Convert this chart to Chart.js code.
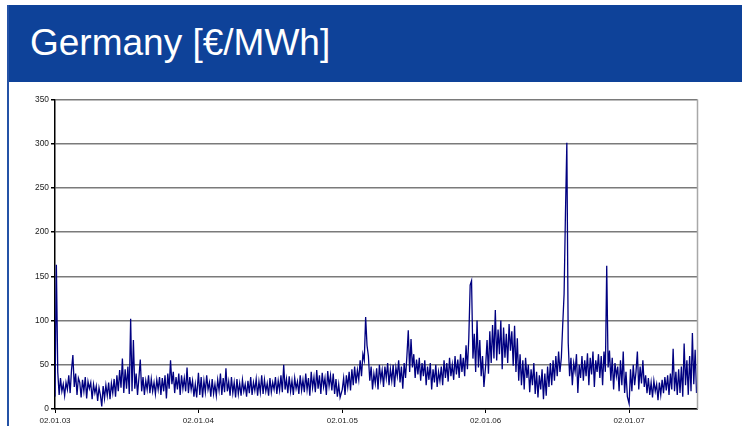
<!DOCTYPE html>
<html>
<head>
<meta charset="utf-8">
<script src="https://cdn.jsdelivr.net/npm/chart.js@4.4.0/dist/chart.umd.min.js"></script>
<style>
    html, body { margin: 0; padding: 0; background: #fff; }
    body { width: 742px; height: 426px; position: relative; overflow: hidden; font-family: 'Liberation Sans', Arial, sans-serif; }
    #header { position: absolute; left: 7px; top: 5px; width: 735px; height: 77px; background: #0e4299; }
    #title { position: absolute; left: 23px; top: 16.5px; color: #fff; font-size: 37px; line-height: normal; white-space: nowrap; }
    #edge { position: absolute; left: 7px; top: 5px; width: 2px; height: 421px; background: #2452a6; }
    #wrap { position: absolute; left: 0; top: 84px; width: 742px; height: 342px; }
</style>
</head>
<body>
<div id="header"><span id="title">Germany [€/MWh]</span></div>
<div id="edge"></div>
<div id="wrap"><canvas id="chart"></canvas></div>
<script>
// Tick labels (dd.mm.yy) and their day offsets from 02.01.03
const tickLabels = ['02.01.03', '02.01.04', '02.01.05', '02.01.06', '02.01.07'];
const tickDays = [0, 365, 731, 1096, 1461];
const lastDay = 1635;

// Day-ahead base price, two readings per week, one array per year (€/MWh)
const prices2003 = [
    14, 163,
    42, 16, 35, 20, 28, 15, 30, 22, 38, 18, 44, 61,
    25, 40, 16, 35, 30, 13, 33, 20, 36, 12, 31, 23,
    30, 11, 28, 18, 26, 9, 24, 16, 3, 26, 12, 27,
    15, 30, 11, 29, 18, 34, 14, 38, 20, 44, 24, 57,
    18, 45, 23, 48, 17, 102, 20, 78, 23, 40, 16, 35,
    56, 20, 36, 16, 32, 22, 38, 18, 34, 20, 30, 17,
    33, 22, 36, 16, 35, 20, 38, 12, 40, 23, 55, 28,
    42, 18, 36, 22, 40, 16, 38, 23, 35, 20, 47, 18,
    36, 22, 32, 14, 28, 13
];
const prices2004 = [
    41, 16, 36, 13, 32, 19, 38, 22, 30, 14, 34, 17,
    28, 15, 33, 21, 40, 16, 35, 19, 46, 20, 31, 15,
    36, 18, 30, 13, 34, 17, 29, 15, 33, 20, 28, 14,
    32, 18, 36, 16, 30, 21, 34, 15, 31, 19, 38, 17,
    33, 20, 29, 15, 35, 19, 30, 22, 36, 17, 32, 21,
    38, 19, 50, 22, 34, 18, 37, 20, 32, 16, 35, 23,
    31, 17, 38, 21, 33, 19, 40, 22, 35, 15, 42, 24,
    36, 19, 44, 23, 38, 17, 41, 25, 35, 16, 43, 26,
    38, 21, 40, 17, 34, 14, 28, 13
];
const prices2005 = [
    22, 35, 16, 38, 25, 42, 21, 45, 27, 48, 29, 44,
    33, 55, 37, 62, 55, 104, 72, 60, 32, 48, 22, 40,
    29, 46, 22, 50, 33, 44, 25, 48, 35, 52, 27, 45,
    32, 50, 25, 47, 37, 55, 30, 48, 23, 52, 35, 60,
    89, 42, 79, 47, 62, 35, 56, 39, 58, 32, 52, 37,
    55, 27, 48, 33, 52, 22, 45, 30, 50, 25, 42, 32,
    48, 27, 55, 35, 52, 31, 58, 37, 50, 33, 60, 39,
    56, 35, 62, 42, 58, 37, 72, 45, 80, 140, 145, 57,
    85, 42, 100, 47, 78, 37, 60, 25
];
const prices2006 = [
    50, 78, 40, 88, 52, 95, 57, 112, 55, 90, 62, 100,
    45, 92, 58, 85, 52, 96, 66, 88, 49, 94, 42, 80,
    32, 62, 27, 55, 22, 58, 35, 50, 19, 45, 27, 52,
    17, 42, 13, 38, 22, 45, 11, 40, 15, 48, 25, 52,
    27, 55, 32, 60, 37, 65, 42, 58, 95, 130, 222, 301,
    75, 37, 58, 27, 52, 42, 62, 18, 50, 35, 60, 32,
    55, 37, 63, 27, 58, 39, 65, 25, 55, 42, 62, 35,
    60, 27, 65, 42, 162, 47, 66, 32, 58, 22, 52, 37,
    48, 20, 55, 27, 65, 18, 42, 14
];
const prices2007 = [
    6, 45, 20, 50, 27, 42, 65, 22, 48, 29, 55, 25,
    38, 18, 35, 16, 30, 13, 32, 20, 28, 10, 30, 16,
    33, 18, 36, 21, 38, 16, 40, 22, 68, 20, 42, 16,
    45, 18, 48, 14, 74, 27, 55, 16, 60, 20, 86, 28,
    67, 18
];

const yearSeries = [prices2003, prices2004, prices2005, prices2006, prices2007];
const points = [];
yearSeries.forEach((arr, y) => {
    arr.forEach((v, i) => points.push({ x: tickDays[y] + i * 3.5, y: v }));
});

// right-hand frame of the plot area
const frameRight = {
    id: 'frameRight',
    afterDraw(chart) {
        const { ctx, chartArea } = chart;
        ctx.save();
        ctx.strokeStyle = '#a8a8a8';
        ctx.lineWidth = 1.5;
        ctx.beginPath();
        ctx.moveTo(chartArea.right, chartArea.top);
        ctx.lineTo(chartArea.right, chartArea.bottom);
        ctx.stroke();
        ctx.restore();
    }
};

new Chart(document.getElementById('chart'), {
    type: 'line',
    data: {
        datasets: [{
            data: points,
            borderColor: '#000080',
            borderWidth: 1.3,
            pointRadius: 0,
            tension: 0,
            fill: false
        }]
    },
    options: {
        responsive: true,
        maintainAspectRatio: false,
        animation: false,
        layout: { padding: { top: 15.5, right: 44.5, left: 0, bottom: 0 } },
        plugins: { legend: { display: false }, tooltip: { enabled: false } },
        scales: {
            x: {
                type: 'linear',
                min: 0,
                max: lastDay,
                afterBuildTicks: scale => { scale.ticks = tickDays.map(v => ({ value: v })); },
                afterFit: scale => { scale.height = 17; },
                ticks: {
                    autoSkip: false,
                    maxRotation: 0,
                    padding: 3,
                    color: '#222',
                    font: { family: "'Liberation Sans', Arial", size: 8 },
                    callback: (v, i) => tickLabels[i]
                },
                grid: { drawOnChartArea: false, drawTicks: true, tickLength: 4, tickColor: '#000', lineWidth: 1 },
                border: { color: '#000', width: 1.5 }
            },
            y: {
                min: 0,
                max: 350,
                afterFit: scale => { scale.width = 55; },
                ticks: {
                    stepSize: 50,
                    padding: 2,
                    color: '#222',
                    font: { family: "'Liberation Sans', Arial", size: 8.4 }
                },
                grid: { color: '#7a7a7a', lineWidth: 1.5, tickLength: 4, tickColor: '#000' },
                border: { color: '#000', width: 1.5 }
            }
        }
    },
    plugins: [frameRight]
});
</script>
</body>
</html>
